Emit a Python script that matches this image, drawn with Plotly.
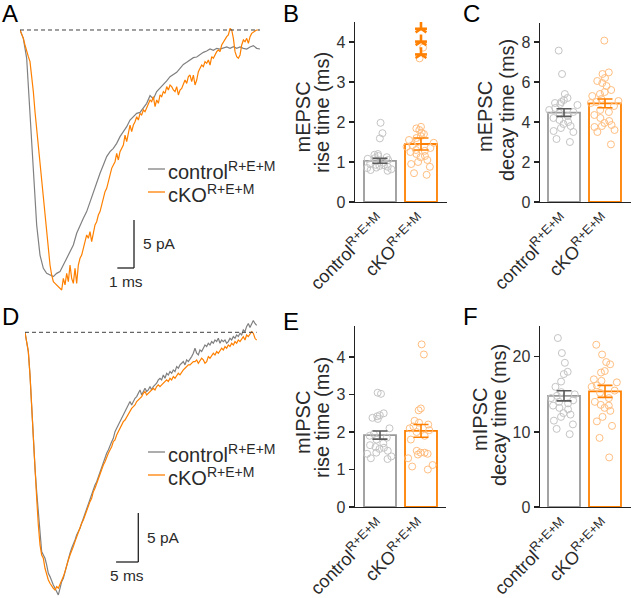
import plotly.graph_objects as go

W, H = 631, 598

# ---------------- data ----------------
groups = ["control", "cKO"]
group_labels = ["control<sup>R+E+M</sup>", "cKO<sup>R+E+M</sup>"]

# A: average mEPSC traces (pA), sampled every dt ms
a_dt_control = 0.2
a_dt_cko = 0.1
a_control = [0.0, -0.87, -2.95, -8.51, -15.10, -20.31, -23.44, -24.83, -25.35, -25.52,
             -25.69, -25.35, -25.17, -24.48, -23.78, -23.09, -22.40, -21.18, -20.31, -19.62,
             -18.92, -17.88, -16.84, -15.80, -14.93, -14.06, -13.19, -12.67, -12.33, -11.81,
             -11.11, -10.59, -10.07, -9.38, -9.03, -8.68, -8.58, -8.16, -7.64, -6.84,
             -7.19, -6.42, -6.08, -5.66, -5.31, -4.86, -4.62, -4.41, -3.99, -3.58,
             -3.37, -3.13, -2.88, -2.81, -2.53, -2.33, -2.19, -1.98, -2.12, -1.91,
             -1.98, -1.84, -1.77, -1.91, -1.74, -1.91, -1.77, -1.91, -1.98, -1.77,
             -1.63, -1.91, -1.98]
a_cko = [0.0, -0.35, -0.87, -1.56, -2.26, -2.78, -3.30, -4.69, -6.42, -8.51,
         -10.24, -11.98, -14.06, -16.15, -17.88, -19.62, -21.35, -23.09, -24.48, -25.52,
         -26.22, -26.39, -26.56, -26.74, -26.91, -27.08, -25.87, -26.56, -25.35, -26.22,
         -24.48, -25.87, -26.39, -24.83, -26.39, -24.48, -23.78, -23.44, -22.74, -22.05,
         -21.35, -21.70, -21.01, -22.05, -21.01, -20.31, -19.97, -19.27, -18.92, -18.23,
         -17.53, -16.84, -16.49, -15.80, -15.10, -14.41, -14.06, -13.72, -12.85, -13.54,
         -12.67, -12.33, -11.98, -10.94, -11.63, -10.76, -9.90, -10.59, -9.90, -9.55,
         -9.03, -9.38, -8.68, -8.85, -8.33, -8.51, -8.16, -7.81, -7.29, -7.47,
         -6.94, -7.99, -7.29, -7.64, -6.77, -6.94, -6.42, -6.60, -5.90, -6.25,
         -5.73, -5.90, -6.25, -6.42, -5.90, -6.77, -6.25, -6.08, -5.56, -5.21,
         -5.56, -4.86, -4.69, -5.38, -4.69, -5.73, -5.21, -4.34, -3.99, -3.65,
         -3.82, -3.30, -3.47, -3.13, -3.65, -2.78, -2.95, -2.60, -2.26, -2.08,
         -2.26, -1.56, -1.22, -0.87, -0.69, -0.52, 0.17, 0.0, -0.87, -2.26,
         -2.78, -2.95, -2.60, -1.56, -1.04, -1.22, -0.87, -1.39, -0.69, -0.35,
         -0.17, -0.10, 0.0, 0.0]

# D: average mIPSC traces (pA), sampled every dt ms
d_dt = 0.375
d_control = [0.0, -0.95, -1.97, -4.35, -7.76, -11.16, -13.88, -16.26, -18.30, -20.34,
             -22.38, -22.72, -23.06, -23.74, -24.59, -24.93, -25.44, -25.78, -26.12, -26.46,
             -26.80, -26.12, -25.44, -25.10, -24.42, -23.74, -23.06, -22.55, -22.04, -21.70,
             -21.19, -20.68, -20.34, -20.00, -19.49, -18.98, -18.64, -18.13, -17.62, -17.11,
             -16.60, -15.92, -15.58, -15.24, -14.73, -14.22, -13.71, -13.20, -12.69, -12.35,
             -12.01, -11.50, -11.16, -10.82, -10.14, -9.80, -9.46, -9.12, -8.78, -8.44,
             -8.10, -7.76, -7.41, -7.07, -7.41, -7.07, -6.73, -6.56, -6.22, -5.88,
             -6.39, -6.05, -5.71, -6.05, -5.88, -5.54, -5.88, -5.54, -5.37, -5.20,
             -4.86, -4.69, -4.86, -4.35, -4.69, -4.18, -4.35, -4.01, -4.18, -3.84,
             -4.01, -3.50, -3.67, -3.33, -3.16, -2.99, -3.33, -2.82, -2.99, -2.65,
             -2.48, -2.14, -1.63, -2.14, -2.31, -1.80, -1.97, -1.63, -1.29, -1.46,
             -1.12, -1.29, -0.95, -1.12, -0.78, -0.95, -0.61, -1.12, -0.78, -0.95,
             -0.78, -1.12, -0.95, -0.61, -0.78, -0.44, -0.61, -0.27, -0.44, -0.10,
             -0.27, 0.24, 0.07, 0.60, 0.90, 0.50, 0.80, 1.20, 0.90, 0.70]
d_cko = [0.0, -0.95, -1.97, -4.35, -7.76, -11.16, -14.22, -16.94, -19.66, -21.70,
         -22.72, -23.06, -24.08, -24.76, -25.27, -25.61, -25.95, -26.12, -26.29, -25.95,
         -26.12, -25.78, -25.27, -24.93, -24.42, -23.74, -23.23, -22.72, -22.38, -21.87,
         -21.36, -20.85, -20.51, -20.00, -19.49, -19.15, -18.64, -18.13, -17.79, -17.28,
         -16.94, -16.26, -15.92, -15.41, -14.90, -14.56, -14.05, -13.54, -13.20, -12.69,
         -12.35, -12.01, -11.67, -11.16, -10.99, -10.48, -10.14, -9.80, -9.46, -9.12,
         -8.95, -8.61, -8.27, -7.93, -7.76, -7.59, -7.41, -7.07, -6.90, -6.73,
         -6.56, -6.22, -6.05, -6.39, -6.22, -6.05, -5.88, -5.71, -5.88, -5.54,
         -5.37, -5.54, -5.37, -5.20, -5.03, -4.86, -5.03, -4.69, -4.86, -4.52,
         -4.69, -4.35, -4.18, -4.35, -4.01, -3.84, -3.67, -3.50, -3.33, -3.33,
         -3.16, -2.99, -2.99, -2.82, -3.16, -2.82, -2.65, -2.82, -3.16, -2.99,
         -2.48, -2.65, -2.31, -2.14, -2.31, -1.97, -2.14, -1.80, -1.63, -1.80,
         -1.46, -1.63, -1.29, -1.46, -1.12, -1.29, -0.95, -1.12, -0.78, -0.95,
         -0.61, -0.44, -0.78, -0.27, -0.44, -0.10, 0.07, -0.10, -0.61, -0.80]

# B: mEPSC rise time (ms)
b_control = [1.98, 1.72, 1.59, 1.2, 1.18, 1.15, 1.12, 1.1, 1.08, 1.05, 1.02, 0.98,
             0.95, 0.93, 0.92, 0.9, 0.88, 0.86, 0.85, 0.82, 0.8, 0.78]
b_cko = [3.86, 3.59, 1.88, 1.84, 1.8, 1.73, 1.7, 1.65, 1.6, 1.55, 1.5, 1.48, 1.42, 1.38,
         1.35, 1.3, 1.28, 1.25, 1.2, 1.15, 1.12, 1.05, 1.0, 0.95, 0.88, 0.72, 0.68]
b_mean = [1.03, 1.45]
b_sem = [0.06, 0.15]
b_signif = [4.86, 4.5, 4.14]   # heights of the three asterisks above cKO (ms)

# C: mEPSC decay time (ms)
c_control = [7.57, 6.4, 5.4, 5.2, 5.1, 5.0, 4.95, 4.9, 4.85, 4.7, 4.6, 4.5, 4.45, 4.3,
             4.2, 4.1, 4.0, 3.9, 3.8, 3.7, 3.55, 3.5, 3.15, 3.0]
c_cko = [8.07, 6.48, 6.4, 6.2, 6.05, 5.95, 5.8, 5.6, 5.5, 5.4, 5.3, 5.15, 5.05, 5.0,
         4.95, 4.8, 4.6, 4.5, 4.35, 4.2, 4.05, 3.95, 3.85, 3.8, 3.75, 3.6, 3.5, 2.88]
c_mean = [4.47, 4.93]
c_sem = [0.19, 0.22]

# E: mIPSC rise time (ms)
e_control = [3.05, 3.02, 2.5, 2.45, 2.42, 2.38, 2.35, 2.1, 1.95, 1.9, 1.85, 1.8, 1.7,
             1.65, 1.6, 1.58, 1.55, 1.5, 1.45, 1.42, 1.35, 1.3, 1.28]
e_cko = [4.34, 4.07, 2.63, 2.58, 2.3, 2.25, 2.2, 2.15, 2.1, 2.05, 2.0, 1.9, 1.8, 1.5,
         1.45, 1.45, 1.42, 1.4, 1.3, 1.12, 1.08, 1.0]
e_mean = [1.92, 2.03]
e_sem = [0.11, 0.17]

# F: mIPSC decay time (ms)
f_control = [22.5, 20.5, 19.2, 18.0, 17.7, 16.7, 16.0, 15.3, 15.0, 14.8, 14.5, 14.2,
             14.0, 13.8, 13.5, 13.2, 13.0, 12.5, 12.3, 12.0, 11.5, 11.0, 10.4, 9.7]
f_cko = [21.6, 20.3, 19.3, 19.0, 18.1, 17.9, 17.0, 16.8, 16.6, 16.2, 16.0, 15.5, 15.2,
         14.5, 14.0, 13.6, 13.5, 13.2, 12.8, 12.0, 11.4, 10.8, 9.2, 6.6]
f_mean = [14.8, 15.4]
f_sem = [0.67, 0.8]

# scale bars (ms, pA)
a_bar_t, a_bar_i = 1, 5
d_bar_t, d_bar_i = 5, 5

# ---------------- styling ----------------
FONT = "Arial, 'Liberation Sans', sans-serif"
C_TRACE = "#808080"
C_ORANGE = "#ff8000"
C_BAR_CTRL = "#9a9a9a"
C_ERR_CTRL = "#5a5a5a"
C_PT_CTRL = "#c4c4c4"
C_PT_CKO = "#ffbe80"
C_AXIS = "#222222"
C_TEXT = "#2a2a2a"
BAR_W = 0.78


def px(x):
    return x / W


def py(y):
    return 1 - y / H


fig = go.Figure()
layout = dict(
    template="none",
    width=W, height=H, margin=dict(l=0, r=0, t=0, b=0, pad=0, autoexpand=False),
    paper_bgcolor="white", plot_bgcolor="rgba(0,0,0,0)",
    showlegend=False, font=dict(family=FONT, color=C_TEXT), hovermode="closest",
)
shapes = []
annotations = []


def ann(text, x, y, size, color=C_TEXT, xanchor="center", yanchor="middle",
        angle=0, xref="paper", yref="paper"):
    annotations.append(dict(text=text, x=x, y=y, xref=xref, yref=yref,
                            showarrow=False, xanchor=xanchor, yanchor=yanchor,
                            textangle=angle, font=dict(size=size, color=color, family=FONT)))


# ------------- trace panels -------------
def trace_panel(n, ctrl, cko, dt_c, dt_k, x0px, y0px, px_per_ms, px_per_pa,
                t_max, i_min, i_max, bar_t, bar_i, bar_corner_px, legend_y):
    xa, ya = ("x" if n == 1 else f"x{n}"), ("y" if n == 1 else f"y{n}")
    t_c = [i * dt_c for i in range(len(ctrl))]
    t_k = [i * dt_k for i in range(len(cko))]
    fig.add_trace(go.Scatter(x=t_c, y=ctrl, mode="lines", xaxis=xa, yaxis=ya,
                             line=dict(color=C_TRACE, width=1.2)))
    fig.add_trace(go.Scatter(x=t_k, y=cko, mode="lines", xaxis=xa, yaxis=ya,
                             line=dict(color=C_ORANGE, width=1.2)))
    key = "" if n == 1 else str(n)
    layout["xaxis" + key] = dict(domain=[px(x0px), px(x0px + t_max * px_per_ms)],
                                 range=[0, t_max], visible=False, anchor=ya, automargin=False)
    layout["yaxis" + key] = dict(domain=[py(y0px - i_min * px_per_pa), py(y0px - i_max * px_per_pa)],
                                 range=[i_min, i_max], visible=False, anchor=xa, automargin=False)
    t_end = max(t_c[-1], t_k[-1])
    shapes.append(dict(type="line", xref=xa, yref=ya, x0=0, x1=t_end, y0=0, y1=0,
                       line=dict(color="#404040", width=1, dash="4px,3px")))
    # scale bar
    cx_px, cy_px = bar_corner_px
    ct = (cx_px - x0px) / px_per_ms
    ci = -(cy_px - y0px) / px_per_pa
    shapes.append(dict(type="line", xref=xa, yref=ya, x0=ct, x1=ct, y0=ci, y1=ci + bar_i,
                       line=dict(color=C_AXIS, width=1.3)))
    shapes.append(dict(type="line", xref=xa, yref=ya, x0=ct - bar_t, x1=ct, y0=ci, y1=ci,
                       line=dict(color=C_AXIS, width=1.3)))
    bar_len_px = bar_i * px_per_pa
    ann(f"{bar_i} pA", px(cx_px + 7), py(cy_px - bar_len_px / 2), 15.5, xanchor="left")
    ann(f"{bar_t} ms", px(cx_px - bar_t * px_per_ms / 2), py(cy_px + 13), 15.5)
    # legend
    for k, (lab, col) in enumerate(zip(group_labels, [C_TRACE, C_ORANGE])):
        yy = legend_y[k]
        shapes.append(dict(type="line", xref="paper", yref="paper", x0=px(148), x1=px(165),
                           y0=py(yy), y1=py(yy), line=dict(color=col, width=1.3)))
        ann(lab, px(166), py(yy + 1), 20, xanchor="left")


trace_panel(1, a_control, a_cko, a_dt_control, a_dt_cko, 20, 30, 16.67, 9.6,
            14.4, -27.6, 0.42, a_bar_t, a_bar_i, (134, 268), (169, 192))
trace_panel(4, d_control, d_cko, d_dt, d_dt, 25, 332.3, 4.444, 9.8,
            52.5, -27.0, 1.5, d_bar_t, d_bar_i, (138.3, 562), (452, 475))


# ------------- bar panels -------------
def bar_panel(n, ctrl, cko, mean, sem, x_left, x_right, y_bottom, y_top, ymax, dtick,
              c0_px):
    xa, ya = f"x{n}", f"y{n}"
    unit = 41.0
    r0 = (x_left - c0_px) / unit
    r1 = (x_right - c0_px) / unit
    fig.add_trace(go.Bar(x=groups, y=mean, width=BAR_W, xaxis=xa, yaxis=ya,
                         marker=dict(color="white", line=dict(color=[C_BAR_CTRL, C_ORANGE], width=1.8)),
                         hoverinfo="y"))
    for vals, g, col in [(ctrl, groups[0], C_PT_CTRL), (cko, groups[1], C_PT_CKO)]:
        fig.add_trace(go.Box(x=[g] * len(vals), y=vals, xaxis=xa, yaxis=ya,
                             boxpoints="all", jitter=0.95, pointpos=0, width=BAR_W,
                             fillcolor="rgba(0,0,0,0)",
                             line=dict(width=0, color="rgba(0,0,0,0)"),
                             marker=dict(symbol="circle-open", size=7, color=col,
                                         line=dict(width=1, color=col)),
                             hoverinfo="y"))
    for k, col in enumerate([C_ERR_CTRL, C_ORANGE]):
        fig.add_trace(go.Scatter(x=[groups[k]], y=[mean[k]], mode="markers", xaxis=xa, yaxis=ya,
                                 marker=dict(size=1, color="rgba(0,0,0,0)"),
                                 error_y=dict(type="data", array=[sem[k]], color=col,
                                              thickness=1.6, width=7.5)))
    layout[f"xaxis{n}"] = dict(domain=[px(x_left), px(x_right)], range=[r0, r1], anchor=ya,
                               type="category", categoryorder="array", categoryarray=groups,
                               tickvals=groups, ticktext=group_labels, tickangle=-45,
                               showline=True, linecolor=C_AXIS, linewidth=1.4, ticks="",
                               tickfont=dict(size=18, color=C_TEXT, family=FONT),
                               showgrid=False, zeroline=False, fixedrange=True, automargin=False)
    layout[f"yaxis{n}"] = dict(domain=[py(y_bottom), py(y_top)], range=[0, ymax], anchor=xa,
                               showline=True, linecolor=C_AXIS, linewidth=1.4,
                               ticks="outside", ticklen=5, tickwidth=1.4, tickcolor=C_AXIS,
                               dtick=dtick, tick0=0,
                               tickfont=dict(size=16, color="#333333", family=FONT),
                               showgrid=False, zeroline=False, fixedrange=True, automargin=False)


bar_panel(2, b_control, b_cko, b_mean, b_sem, 355, 447, 202, 22, 4.5, 1, 380)
bar_panel(3, c_control, c_cko, c_mean, c_sem, 540, 631, 202, 23, 8.95, 2, 564)
bar_panel(5, e_control, e_cko, e_mean, e_sem, 355, 446, 507, 326, 4.83, 1, 380)
bar_panel(6, f_control, f_cko, f_mean, f_sem, 540, 631, 507, 326, 24.1, 10, 564)

# significance asterisks: same value scale as panel B, on an invisible axis that
# extends to the top of the figure (5-armed stars = Y marker + horizontal bar)
layout["yaxis7"] = dict(domain=[py(202), 1.0], range=[0, 202 / 40.0], anchor="x2",
                        overlaying="y2", visible=False, fixedrange=True, automargin=False)
for sym, size in [("y-up-open", 9), ("line-ew-open", 8.5)]:
    fig.add_trace(go.Scatter(x=[groups[1]] * len(b_signif), y=b_signif, mode="markers",
                             xaxis="x2", yaxis="y7", hoverinfo="skip",
                             marker=dict(symbol=sym, size=size, color=C_ORANGE,
                                         line=dict(width=2.6, color=C_ORANGE))))

# axis titles (two lines each)
for (l1, l2, x1, x2, y1, y2) in [
    ("mEPSC", "rise time (ms)", 302.5, 322, 117, 113),
    ("mEPSC", "decay time (ms)", 485, 507, 117, 110),
    ("mIPSC", "rise time (ms)", 303, 322, 423, 418),
    ("mIPSC", "decay time (ms)", 480, 499, 420, 415),
]:
    ann(l1, px(x1), py(y1), 20, angle=-90)
    ann(l2, px(x2), py(y2), 20, angle=-90)

# panel letters
for lab, x, y in [("A", 10, 14), ("B", 291, 14), ("C", 471, 14),
                  ("D", 10, 316), ("E", 291, 321), ("F", 470, 316)]:
    ann(lab, px(x), py(y), 24, color="#000000")

layout["shapes"] = shapes
layout["annotations"] = annotations
fig.update_layout(**layout)
fig.write_html("out.html", config={"displayModeBar": False, "staticPlot": True},
               post_script="document.body.style.margin='0';document.body.style.overflow='hidden';")
